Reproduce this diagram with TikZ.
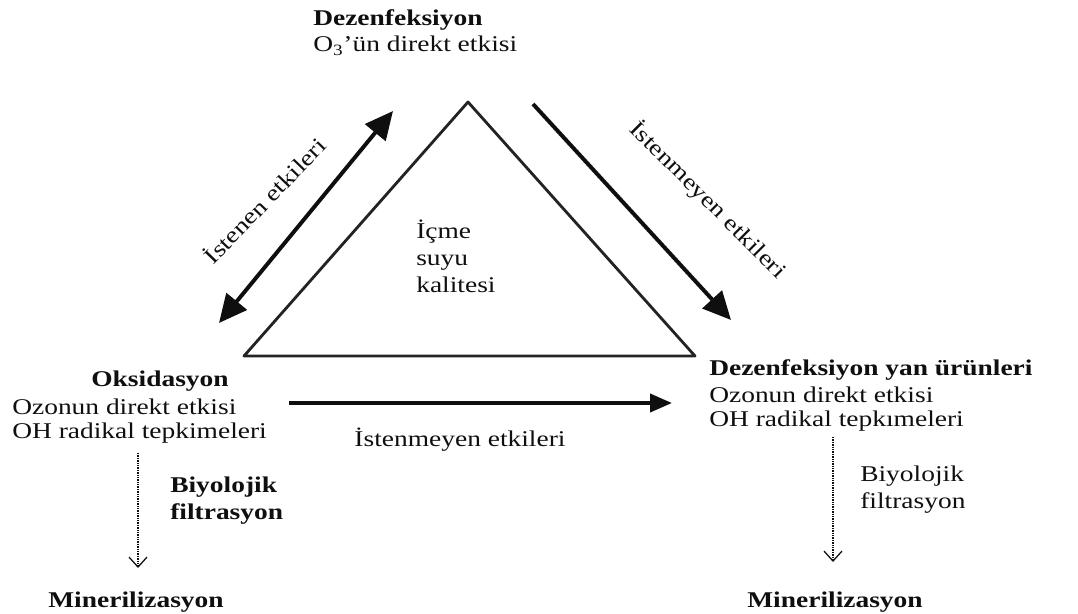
\documentclass[tikz,border=0pt]{standalone}
\usepackage{fontspec}
\setmainfont[FakeStretch=1.22]{Liberation Serif}
\usetikzlibrary{arrows.meta}
\definecolor{inkdark}{RGB}{15,15,15}
\definecolor{trigray}{RGB}{35,35,35}
\tikzset{
  txt/.style={font=\fontsize{16}{19}\selectfont, inner sep=0pt, text=inkdark},
  txtb/.style={font=\fontsize{16}{19}\selectfont\bfseries, inner sep=0pt, text=inkdark},
  bigarr/.style={draw=inkdark, line width=2.8pt, -{Triangle[length=7mm, width=6.5mm]}},
  biarr/.style={draw=inkdark, line width=2.8pt, {Triangle[length=7mm, width=6.5mm]}-{Triangle[length=7mm, width=6.5mm]}},
  bioarr/.style={draw=inkdark, line width=0.9pt, dash pattern=on 1pt off 0.7pt, -{Straight Barb[length=2.5mm, width=4.5mm]}},
}

\begin{document}
\begin{tikzpicture}[x=0.025cm, y=-0.025cm]
\useasboundingbox (0,0) rectangle (1078,613);

% ============================================================ triangle
\coordinate (apex) at (468,102);
\coordinate (tl) at (244,356);
\coordinate (tr) at (695,356);
\draw[trigray, line width=2pt, line join=round] (apex) -- (tl) -- (tr) -- cycle;
\node[txt, anchor=north west, align=left] (qual) at (416,220) {İçme\\suyu\\kalitesi};

% ============================================================ top
\node[txtb, anchor=west] (dez) at (313,20) {Dezenfeksiyon};
\node[txt, anchor=west] (dez1) at (313,46) {O\textsubscript{3}’ün direkt etkisi};

% ============================================================ side arrows
\coordinate (la) at (219,323);
\coordinate (lb) at (393,111);
\draw[biarr] (la) -- (lb);
\node[txt, rotate=46] (ist) at (264,200) {İstenen etkileri};

\coordinate (ra) at (533,104);
\coordinate (rb) at (731,320);
\draw[bigarr] (ra) -- (rb);
\node[txt, rotate=-45] (ism1) at (708,200) {İstenmeyen etkileri};

% ============================================================ left: oksidasyon
\node[txtb] (oks) at (160,381) {Oksidasyon};
\node[txt, anchor=west] (oks1) at (12,407) {Ozonun direkt etkisi};
\node[txt, anchor=west] (oks2) at (12,433) {OH radikal tepkimeleri};

\coordinate (ha) at (289,403);
\coordinate (hb) at (672,403);
\draw[bigarr, -{Triangle[length=5.5mm, width=4.5mm]}] (ha) -- (hb);
\node[txt] (ism2) at (460,440) {İstenmeyen etkileri};

\coordinate (da) at (138,453);
\coordinate (db) at (138,568);
\draw[bioarr] (da) -- (db);
\node[txtb, anchor=north west, align=left] (bio1) at (170,477) {Biyolojik\\filtrasyon};
\node[txtb, anchor=base] (min1) at (136,607) {Minerilizasyon};

% ============================================================ right: yan urunler
\node[txtb, anchor=west] (yan) at (709,370) {Dezenfeksiyon yan ürünleri};
\node[txt, anchor=west] (yan1) at (709,395) {Ozonun direkt etkisi};
\node[txt, anchor=west] (yan2) at (709,421) {OH radikal tepkımeleri};

\coordinate (ea) at (833,437);
\coordinate (eb) at (833,562);
\draw[bioarr] (ea) -- (eb);
\node[txt, anchor=north west, align=left] (bio2) at (860,466) {Biyolojik\\filtrasyon};
\node[txtb, anchor=base] (min2) at (835,607) {Minerilizasyon};

\end{tikzpicture}
\end{document}
